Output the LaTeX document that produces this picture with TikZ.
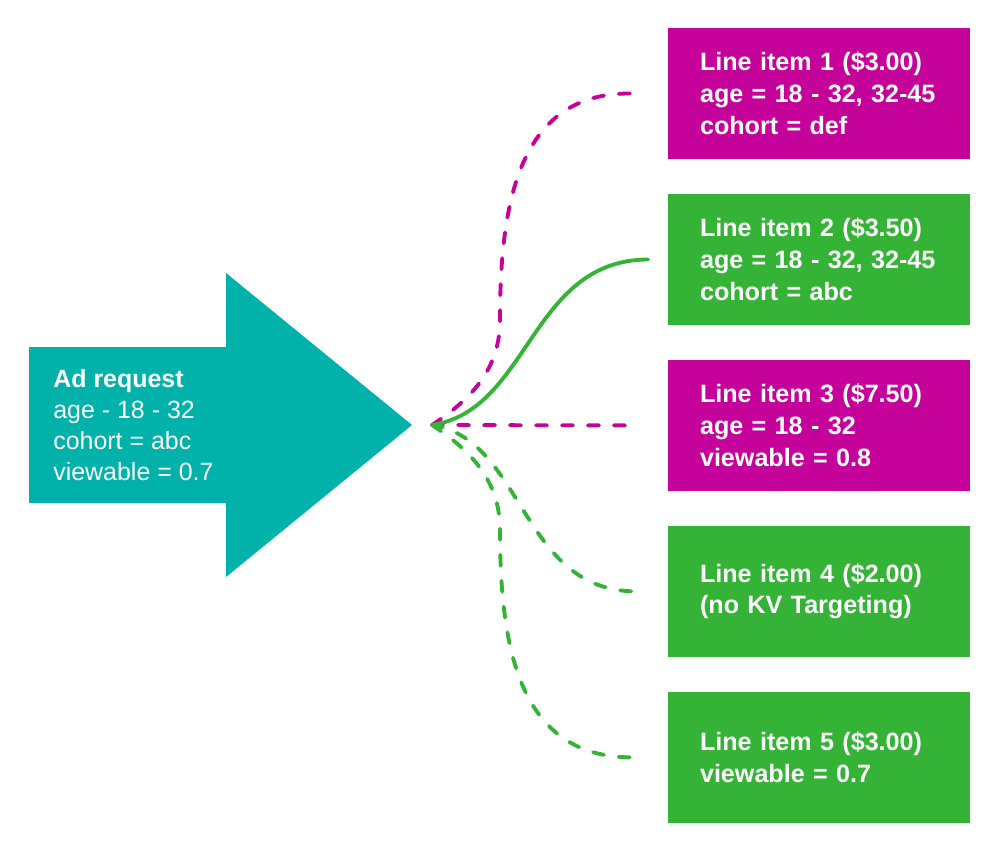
\documentclass[tikz,border=0pt]{standalone}
\usepackage{fontspec}
\setmainfont{Liberation Sans}
\usetikzlibrary{positioning}
\definecolor{reqteal}{HTML}{00B2A9}
\definecolor{limagenta}{HTML}{C5039B}
\definecolor{ligreen}{HTML}{35B336}

\begin{document}
\begin{tikzpicture}[x=0.02cm, y=-0.02cm,
    item/.style={rectangle, text=white, font=\bfseries\fontsize{14.3}{18.1}\selectfont,
        text width=4.76cm, inner xsep=0.64cm, inner ysep=0pt, outer sep=0pt,
        minimum height=2.62cm, align=left},
    link/.style={line width=2.2pt, line cap=round},
    dashlink/.style={link, dash pattern=on 0.22cm off 0.3cm}
]
\useasboundingbox (0,0) rectangle (1000,851);

% ad request arrow
\coordinate (tip) at (412,425);
\fill[reqteal] (29,347) -- (226,347) -- (226,273) -- (tip) -- (226,577) -- (226,503) -- (29,503) -- cycle;
\node[anchor=west, inner sep=0pt, align=left, text=white, font=\fontsize{14.2}{17.6}\selectfont] (req) at (53,425)
    {\textbf{Ad request}\\age - 18 - 32\\cohort = abc\\viewable = 0.7};

% line items
\node[item, fill=limagenta] (li1) at (819,93.5) {Line item 1 (\$3.00)\\age = 18 - 32, 32-45\\cohort = def};
\node[item, fill=ligreen, below=0.7cm of li1] (li2) {Line item 2 (\$3.50)\\age = 18 - 32, 32-45\\cohort = abc};
\node[item, fill=limagenta, below=0.7cm of li2] (li3) {Line item 3 (\$7.50)\\age = 18 - 32\\viewable = 0.8};
\node[item, fill=ligreen, below=0.7cm of li3] (li4) {Line item 4 (\$2.00)\\(no KV Targeting)};
\node[item, fill=ligreen, below=0.7cm of li4] (li5) {Line item 5 (\$3.00)\\viewable = 0.7};

\coordinate (src) at ([xshift=0.4cm]tip);
\coordinate (e1) at ([xshift=-0.76cm]li1.west);
\coordinate (e2) at ([xshift=-0.4cm]li2.west);
\coordinate (e3) at ([xshift=-0.72cm]li3.west);
\coordinate (e4) at ([xshift=-0.64cm]li4.west);
\coordinate (e5) at ([xshift=-0.76cm]li5.west);

% matching
\draw[dashlink, limagenta] (src) .. controls (470,400) and (500,370) .. (500,320)
    .. controls (500,200) and (520,93) .. (e1);
\draw[dashlink, limagenta] (src) -- (e3);
\draw[dashlink, ligreen] (src) .. controls (470,450) and (500,480) .. (500,530)
    .. controls (500,650) and (520,756) .. (e5);
\draw[dashlink, ligreen] (src) .. controls (525,440) and (520,591) .. (e4);
\draw[link, ligreen] (src) .. controls (530,410) and (530,260) .. (e2);
\end{tikzpicture}
\end{document}
